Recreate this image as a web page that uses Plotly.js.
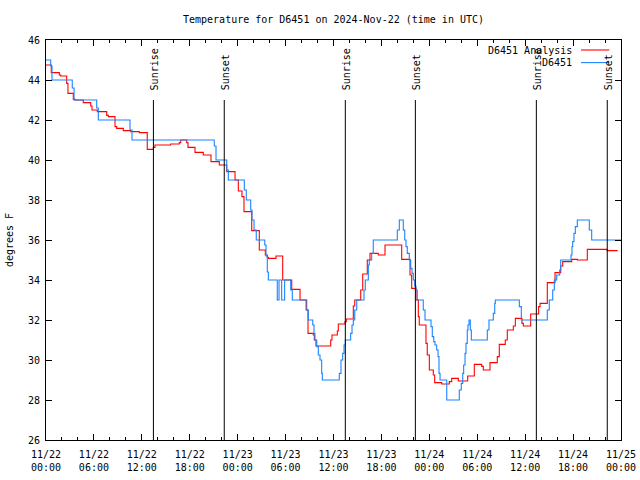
<!DOCTYPE html>
<html>
<head>
<meta charset="utf-8">
<script src="https://cdn.plot.ly/plotly-3.0.1.min.js"></script>
<style>html,body{margin:0;padding:0;background:#fff;}#chart{width:640px;height:480px;}</style>
</head>
<body>
<div id="chart"></div>
<script>
// Hours since 2024-11-22 00:00 UTC
const analysisHours = [0.00,0.66,1.67,1.84,2.59,2.75,3.42,3.63,4.67,5.60,5.76,6.42,7.60,7.80,8.64,8.85,9.68,10.61,11.68,12.68,13.44,13.65,15.61,16.69,16.87,17.62,17.78,18.66,19.70,20.66,21.70,22.63,23.67,24.08,24.54,24.79,25.76,26.71,27.46,27.71,27.84,28.80,29.64,30.77,31.81,32.64,32.81,33.47,33.60,33.81,35.65,35.81,36.48,36.60,37.44,37.60,38.48,38.66,39.41,39.66,40.23,40.57,41.61,42.45,44.54,45.58,45.79,46.33,46.62,46.74,47.58,47.74,48.00,48.50,48.67,49.55,50.50,50.80,51.63,52.80,53.63,54.56,54.76,55.60,56.51,56.76,57.51,57.76,58.52,58.77,59.60,59.77,60.69,61.69,61.86,62.77,63.74,64.45,64.70,65.83,66.53,67.78,70.25,71.58];
const analysisTemp = [44.75,44.37,44.25,44.2,43.83,43.33,43.03,43.0,42.87,42.7,42.5,42.42,42.23,42.17,41.67,41.58,41.47,41.42,41.37,40.53,40.63,40.75,40.8,40.87,41.0,40.87,40.63,40.38,40.25,39.92,39.75,39.42,39.0,38.45,38.17,37.42,36.47,35.5,35.25,35.13,35.08,35.2,34.0,33.53,33.0,32.5,31.33,31.25,31.0,30.7,31.0,31.25,31.45,31.8,31.92,32.05,32.7,33.0,33.5,34.3,35.0,35.33,35.25,35.75,35.03,34.25,33.58,33.0,32.17,31.75,30.83,30.25,29.5,29.25,28.87,28.8,28.92,29.08,28.95,29.2,29.78,29.68,29.5,29.87,30.17,30.78,31.0,31.5,31.7,32.08,31.83,31.7,32.3,32.67,32.83,33.87,34.37,34.7,34.92,35.03,35.0,35.53,35.47,35.47];

const obsHours = [0.00,0.59,0.75,3.29,3.51,6.35,6.55,10.52,10.77,21.07,21.29,22.63,22.83,24.83,25.08,25.63,25.79,26.05,26.33,27.39,27.55,27.71,27.84,28.96,29.18,29.51,29.88,30.64,30.84,32.56,32.85,33.40,33.56,33.68,33.90,34.10,34.31,34.52,34.60,36.73,36.94,37.15,37.32,37.48,38.15,38.32,38.48,38.66,38.91,39.82,39.98,40.36,40.48,40.78,40.98,43.99,44.24,44.74,44.92,45.08,45.24,45.49,45.67,45.83,45.99,46.17,46.33,46.49,47.24,47.46,48.21,48.37,48.55,48.71,48.92,49.09,49.21,49.34,50.18,51.75,52.00,52.18,52.30,52.47,52.59,52.75,52.84,52.97,53.13,53.26,55.26,55.47,56.01,56.19,56.26,59.27,59.52,62.77,63.02,63.45,63.65,63.95,64.32,64.45,65.74,65.86,65.95,66.11,66.28,66.53,68.03,68.33,72.00];
const obsTemp = [45.0,44.7,44.0,43.6,43.0,42.6,42.0,41.5,41.0,40.7,40.0,39.5,39.0,38.5,38.0,37.5,37.0,36.5,36.0,35.75,35.2,34.4,34.0,33.0,34.0,33.0,34.0,33.5,33.0,32.5,32.0,31.75,31.33,31.0,30.67,30.25,30.0,29.33,29.0,29.33,30.0,30.33,30.75,31.0,31.33,31.75,32.0,32.5,33.0,33.5,34.0,34.75,35.0,35.33,36.0,36.5,37.0,36.5,36.0,35.67,35.33,35.0,34.58,34.33,34.0,33.7,33.5,33.0,32.5,32.0,31.67,31.17,30.92,30.75,30.5,30.17,29.33,29.0,28.0,28.5,28.83,29.33,29.75,30.33,30.83,31.5,31.75,32.0,31.5,31.0,31.5,32.0,32.33,32.83,33.0,32.67,32.0,32.5,33.0,33.5,34.0,34.25,34.5,35.0,35.25,35.67,35.92,36.33,36.67,37.0,36.5,36.0,36.0];

const eventHours = [13.45, 22.32, 37.48, 46.25, 61.40, 70.28];
const eventLabels = ['Sunrise','Sunset','Sunrise','Sunset','Sunrise','Sunset'];

const tickHours = [0,6,12,18,24,30,36,42,48,54,60,66,72];
const tickLabels = ['11/22<br>00:00','11/22<br>06:00','11/22<br>12:00','11/22<br>18:00','11/23<br>00:00','11/23<br>06:00','11/23<br>12:00','11/23<br>18:00','11/24<br>00:00','11/24<br>06:00','11/24<br>12:00','11/24<br>18:00','11/25<br>00:00'];

const seriesNames = ['D6451 Analysis', 'D6451'];
const seriesColors = ['#ff0000', '#1a84ff'];

const START = Date.UTC(2024, 10, 22);
function toDate(h) {
  return new Date(START + Math.round(h * 3600000)).toISOString().slice(0, 19).replace('T', ' ');
}

const FONT = {family: '"DejaVu Sans Mono", "Liberation Mono", monospace', size: 10, color: '#000'};

const traces = [
  {x: analysisHours.map(toDate), y: analysisTemp, name: seriesNames[0], type: 'scatter', mode: 'lines',
   line: {shape: 'hv', color: seriesColors[0], width: 1.1}},
  {x: obsHours.map(toDate), y: obsTemp, name: seriesNames[1], type: 'scatter', mode: 'lines',
   line: {shape: 'hv', color: seriesColors[1], width: 1.1}}
];

const shapes = eventHours.map(h => ({
  type: 'line', xref: 'x', yref: 'paper', x0: toDate(h), x1: toDate(h), y0: 0, y1: 0.85,
  line: {color: '#000', width: 1}
}));
const annotations = eventHours.map((h, i) => ({
  x: toDate(h), y: 0.87, xref: 'x', yref: 'paper', text: eventLabels[i], textangle: -90,
  showarrow: false, xanchor: 'center', yanchor: 'bottom', xshift: 1, font: FONT
}));

// gnuplot-style legend: text on the left, sample line on the right
const legendY = [0.975, 0.9435];
seriesNames.forEach((n, i) => {
  annotations.push({x: 0.919, y: legendY[i], xref: 'paper', yref: 'paper', text: n, showarrow: false,
    xanchor: 'right', yanchor: 'middle', font: FONT});
  shapes.push({type: 'line', xref: 'paper', yref: 'paper', x0: 0.9304, x1: 0.9797, y0: legendY[i], y1: legendY[i],
    line: {color: seriesColors[i], width: 1.1}});
});

const layout = {
  width: 640, height: 480,
  margin: {l: 46, r: 19, t: 40, b: 40, pad: 0},
  paper_bgcolor: '#fff', plot_bgcolor: '#fff',
  font: FONT,
  showlegend: false,
  title: {text: 'Temperature for D6451 on 2024-Nov-22 (time in UTC)', x: 0.5, xref: 'paper', xanchor: 'center',
          y: 1 - 19 / 480, yref: 'container', yanchor: 'middle', font: FONT},
  xaxis: {
    type: 'date', range: [toDate(0), toDate(72)],
    tickmode: 'array', tickvals: tickHours.map(toDate), ticktext: tickLabels,
    ticks: 'inside', ticklen: 6, tickwidth: 1, tickcolor: '#000',
    minor: {tickmode: 'linear', tick0: toDate(0), dtick: 2 * 3600000, ticks: 'inside', ticklen: 3, tickcolor: '#000'},
    showline: true, linecolor: '#000', linewidth: 1, mirror: 'ticks',
    showgrid: false, zeroline: false, tickfont: FONT, ticklabelstandoff: 5
  },
  yaxis: {
    range: [26, 46], dtick: 2, tick0: 26,
    ticks: 'inside', ticklen: 6, tickwidth: 1, tickcolor: '#000',
    showline: true, linecolor: '#000', linewidth: 1, mirror: 'ticks',
    showgrid: false, zeroline: false, tickfont: FONT, ticklabelstandoff: 3,
    title: {text: 'degrees F', font: FONT, standoff: 12}
  },
  shapes: shapes,
  annotations: annotations
};

Plotly.newPlot('chart', traces, layout, {displayModeBar: false, staticPlot: true});
</script>
</body>
</html>
